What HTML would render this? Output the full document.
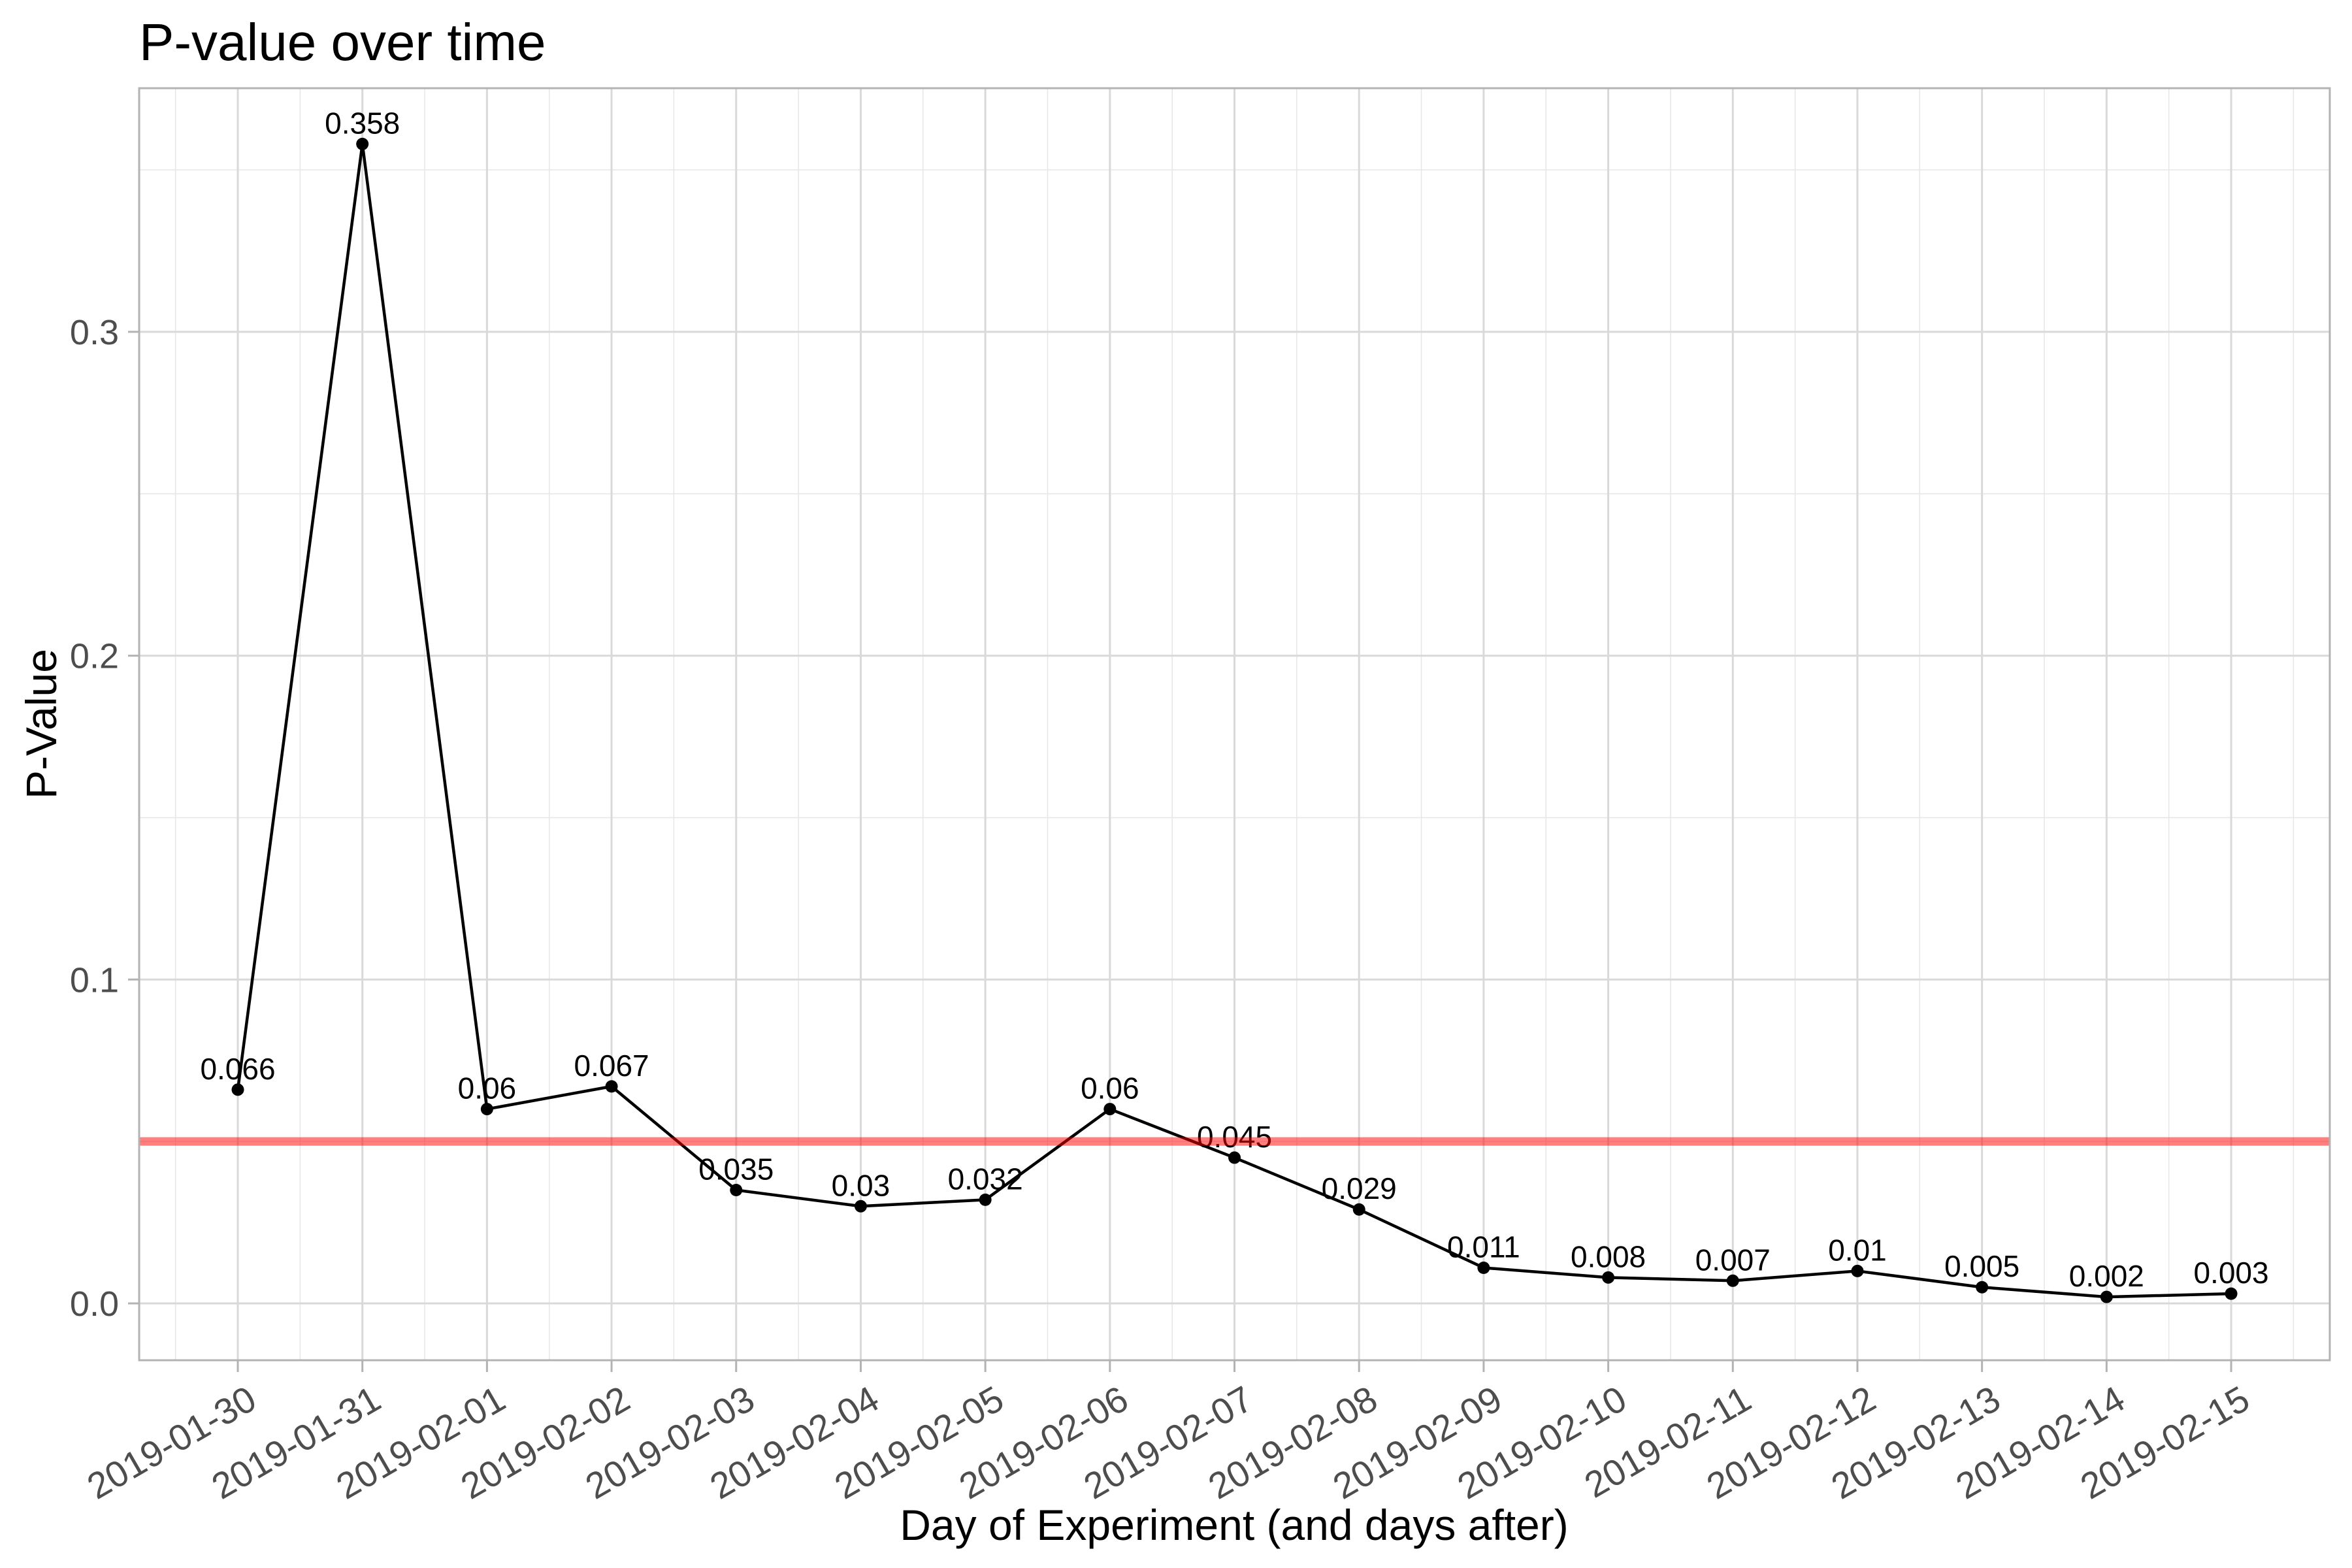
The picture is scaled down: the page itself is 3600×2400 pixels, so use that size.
<!DOCTYPE html>
<html><head><meta charset="utf-8"><style>
body{margin:0;background:#fff}
svg{display:block;font-family:"Liberation Sans",Arial,sans-serif}
</style></head><body>
<svg id="chart" width="3600" height="2400" viewBox="0 0 3600 2400">
<rect width="3600" height="2400" fill="#fff"/>
<text x="213" y="92" font-size="80" fill="#000">P-value over time</text>
<g id="grid"></g>
<g id="marks"></g>
<rect x="213" y="135" width="3353" height="1947" fill="none" stroke="#b3b3b3" stroke-width="3"/>
<g id="axes"></g>
<text x="1889" y="2357" font-size="66" text-anchor="middle" fill="#000">Day of Experiment (and days after)</text>
<text transform="translate(86,1108) rotate(-90)" font-size="66" text-anchor="middle" fill="#000">P-Value</text>
</svg>
<script>
const categories = ["2019-01-30","2019-01-31","2019-02-01","2019-02-02","2019-02-03","2019-02-04","2019-02-05","2019-02-06","2019-02-07","2019-02-08","2019-02-09","2019-02-10","2019-02-11","2019-02-12","2019-02-13","2019-02-14","2019-02-15"];
const pValues = [0.066,0.358,0.06,0.067,0.035,0.03,0.032,0.06,0.045,0.029,0.011,0.008,0.007,0.01,0.005,0.002,0.003];
const valueLabels = ["0.066","0.358","0.06","0.067","0.035","0.03","0.032","0.06","0.045","0.029","0.011","0.008","0.007","0.01","0.005","0.002","0.003"];
const yTicks = [0,0.1,0.2,0.3];
const yTickLabels = ["0.0","0.1","0.2","0.3"];
const yMinor = [0.05,0.15,0.25,0.35];
const threshold = 0.05;

const NS="http://www.w3.org/2000/svg";
const PL=213, PR=3566, PT=135, PB=2082;
const X0=364, XSTEP=190.69;
function xs(i){return X0+i*XSTEP;}
function ys(v){return 1995-v*4957;}
function mk(tag,attrs,parent){const e=document.createElementNS(NS,tag);for(const k in attrs)e.setAttribute(k,attrs[k]);parent.appendChild(e);return e;}
const grid=document.getElementById('grid'), marks=document.getElementById('marks'), axes=document.getElementById('axes');

yMinor.forEach(v=>{const l=mk('line',{x1:PL,x2:PR,y1:ys(v),y2:ys(v),stroke:'#e6e6e6','stroke-width':1.5},grid);

});
for(let i=-0.5;i<categories.length;i+=1){const l=mk('line',{x1:xs(i),x2:xs(i),y1:PT,y2:PB,stroke:'#e6e6e6','stroke-width':1.5},grid);

}
yTicks.forEach((v,k)=>{const l=mk('line',{x1:PL,x2:PR,y1:ys(v),y2:ys(v),stroke:'#d9d9d9','stroke-width':3},grid);


const t=mk('line',{x1:196,x2:PL,y1:ys(v),y2:ys(v),stroke:'#b3b3b3','stroke-width':3},axes);


const tx=mk('text',{x:182,y:ys(v)+19,'font-size':54,'text-anchor':'end',fill:'#4d4d4d'},axes);
tx.textContent=yTickLabels[k];

});
categories.forEach((c,i)=>{const l=mk('line',{x1:xs(i),x2:xs(i),y1:PT,y2:PB,stroke:'#d9d9d9','stroke-width':3},grid);


const t=mk('line',{x1:xs(i),x2:xs(i),y1:PB,y2:PB+18,stroke:'#b3b3b3','stroke-width':3},axes);


const tx=mk('text',{transform:`translate(${xs(i)+12},${PB+36}) rotate(-30)`,'font-size':56,'text-anchor':'end',fill:'#4d4d4d',dy:'0.72em'},axes);
tx.textContent=c;

});

const pts=pValues.map((v,i)=>xs(i)+','+ys(v)).join(' ');
const line=mk('polyline',{points:pts,fill:'none',stroke:'#000','stroke-width':4.5,'stroke-linejoin':'round'},marks);


pValues.forEach((v,i)=>{const p=mk('circle',{cx:xs(i),cy:ys(v),r:9.5,fill:'#000'},marks);


const t=mk('text',{x:xs(i),y:ys(v)-16,'font-size':46,'text-anchor':'middle',fill:'#000'},marks);
t.textContent=valueLabels[i];

});
const th=mk('line',{x1:PL,x2:PR,y1:ys(threshold),y2:ys(threshold),stroke:'#ff0000','stroke-opacity':0.5,'stroke-width':13},marks);


</script>
</body></html>
